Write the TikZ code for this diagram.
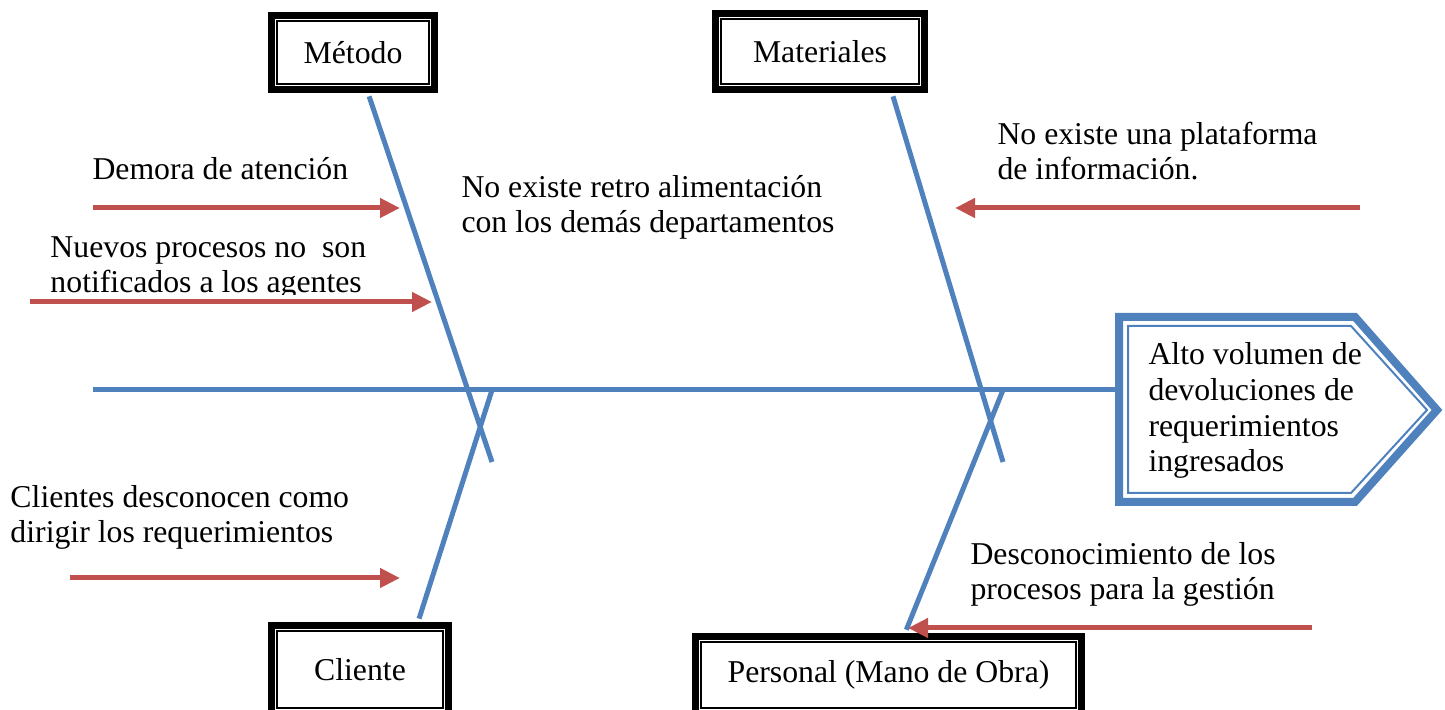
\documentclass[tikz,border=0pt]{standalone}
\usepackage{fontspec}
\setmainfont{Liberation Serif}
\usetikzlibrary{arrows.meta}
\definecolor{boneblue}{RGB}{79,129,189}
\definecolor{causered}{RGB}{192,80,77}

\begin{document}
\begin{tikzpicture}[x=0.4pt,y=-0.4pt,
  font=\fontsize{12.7}{14.3}\selectfont,
  bone/.style={boneblue,line width=2pt},
  cause/.style={causered,line width=2pt,-{Triangle[length=8pt,width=7.5pt]}},
  catbox/.style={draw,line width=2.8pt,fill=white,inner sep=0pt},
  txt/.style={anchor=base west,align=left,inner sep=0pt}]
\useasboundingbox (0,0) rectangle (1445,710);
% categories
\node[catbox,minimum width=65.2pt,minimum height=29.6pt] (metodo) at (353,52.5) {Método};
\node[catbox,minimum width=83.6pt,minimum height=30.4pt] (materiales) at (820,51.5) {Materiales};
\node[catbox,minimum width=70.8pt,minimum height=35.2pt] (cliente) at (360,669.5) {Cliente};
\node[catbox,minimum width=154.4pt,minimum height=30.8pt] (personal) at (888.5,675) {Personal (Mano de Obra)};
\foreach \n in {metodo,materiales,cliente,personal}
  \draw[line width=0.6pt] ([shift={(9,9)}]\n.north west) rectangle ([shift={(-9,-9)}]\n.south east);
% effect
\draw[boneblue,line width=3.2pt] (1119,317) -- (1355,317) -- (1437,410) -- (1355,502) -- (1119,502) -- cycle;
\draw[boneblue,line width=0.8pt] (1128,326) -- (1351,326) -- (1427,410) -- (1351,493) -- (1128,493) -- cycle;
\node[txt] (efecto) at (1148,472) {Alto volumen de\\devoluciones de\\requerimientos\\ingresados};
\coordinate (head) at (1117,390);
\coordinate (tail) at (93,390);
\coordinate (m-end) at (492,462);
\coordinate (t-end) at (1003,462);
\coordinate (c-end) at (492,390);
\coordinate (p-end) at (1003,390);
% bones
\draw[bone] (tail) -- (head);
\draw[bone,shorten <=1.4pt] ([xshift=6pt]metodo.south) -- (m-end);
\draw[bone,shorten <=1.4pt] ([xshift=28.8pt]materiales.south) -- (t-end);
\draw[bone,shorten <=1.4pt] ([xshift=23.2pt]cliente.north) -- (c-end);
\draw[bone,shorten <=1.4pt] ([xshift=6.6pt]personal.north) -- (p-end);
% causes
\node[txt] (demora) at (92,180) {Demora de atención};
\begin{scope}
\clip (0,0) rectangle (440,295);
\node[txt] (nuevos) at (50,293) {Nuevos procesos no\ \ son\\notificados a los agentes};
\end{scope}
\node[txt] (retro) at (461,233) {No existe retro alimentación\\con los demás departamentos};
\node[txt] (plataforma) at (997,180) {No existe una plataforma\\de información.};
\node[txt] (clientes) at (10,543) {Clientes desconocen como\\dirigir los requerimientos};
\node[txt] (desconoc) at (970,600) {Desconocimiento de los\\procesos para la gestión};
\coordinate (a1) at (93,208);   \coordinate (b1) at (400,208);
\coordinate (a2) at (30,302);   \coordinate (b2) at (432,302);
\coordinate (a3) at (1360,208); \coordinate (b3) at (955,208);
\coordinate (a4) at (70,578);   \coordinate (b4) at (400,578);
\coordinate (a5) at (1312,628); \coordinate (b5) at (908,628);
\foreach \i in {1,...,5}
  \draw[cause] (a\i) -- (b\i);
\end{tikzpicture}
\end{document}
